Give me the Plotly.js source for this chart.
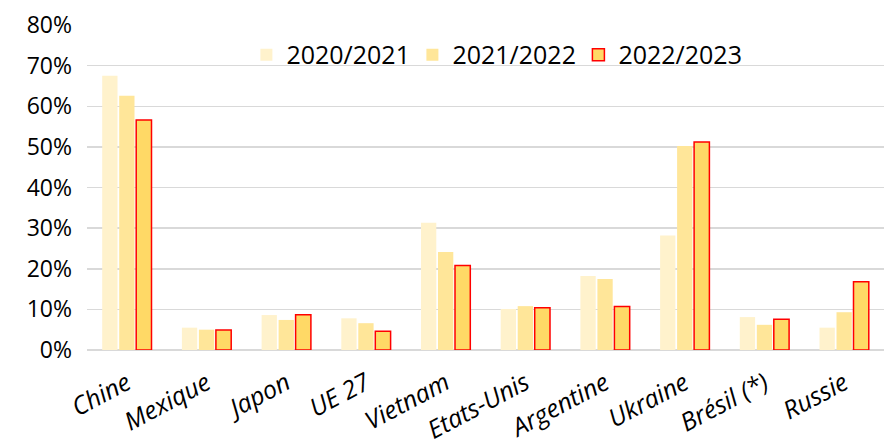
<!DOCTYPE html>
<html>
<head>
<meta charset="utf-8">
<script src="https://cdn.plot.ly/plotly-3.0.1.min.js"></script>
<style>html,body{margin:0;padding:0;background:#fff;}#chart{width:884px;height:446px;}</style>
</head>
<body>
<div id="chart"></div>
<script>
const categories = ["Chine", "Mexique", "Japon", "UE 27", "Vietnam", "Etats-Unis", "Argentine", "Ukraine", "Brésil (*)", "Russie"];
const seriesNames = ["2020/2021", "2021/2022", "2022/2023"];
const s2020 = [0.675, 0.055, 0.086, 0.078, 0.313, 0.101, 0.182, 0.282, 0.081, 0.055];
const s2021 = [0.626, 0.050, 0.074, 0.066, 0.241, 0.108, 0.175, 0.502, 0.062, 0.093];
const s2022 = [0.566, 0.049, 0.087, 0.046, 0.208, 0.104, 0.107, 0.512, 0.076, 0.168];
const yTickVals = [0, 0.1, 0.2, 0.3, 0.4, 0.5, 0.6, 0.7, 0.8];
const yTickText = ["0%", "10%", "20%", "30%", "40%", "50%", "60%", "70%", "80%"];

const fontFam = "Open Sans, sans-serif";
const traces = [
  {type: "bar", name: seriesNames[0], x: categories, y: s2020,
   marker: {color: "#FFF2CC", line: {width: 0}}},
  {type: "bar", name: seriesNames[1], x: categories, y: s2021,
   marker: {color: "#FFE699", line: {width: 0}}},
  {type: "bar", name: seriesNames[2], x: categories, y: s2022,
   marker: {color: "#FFD966", line: {color: "#FF0000", width: 1.5}}}
];
const layout = {
  width: 884, height: 446,
  margin: {l: 87, r: 0, t: 25, b: 96},
  paper_bgcolor: "#ffffff", plot_bgcolor: "#ffffff",
  barmode: "group", bargap: 0.36, bargroupgap: 0.1,
  showlegend: true,
  legend: {orientation: "h", x: 0.2, y: 0.908, xanchor: "left", yanchor: "middle",
    font: {family: fontFam, size: 25, color: "#000"}, bgcolor: "rgba(0,0,0,0)",
    entrywidth: 121, traceorder: "normal"},
  xaxis: {tickangle: -28, tickfont: {family: fontFam, size: 25, color: "#000", style: "italic"},
    showgrid: false, showline: false, ticks: "", ticklabelstandoff: 13, automargin: false, fixedrange: true},
  yaxis: {range: [0, 0.8], tickvals: yTickVals, ticktext: yTickText,
    tickfont: {family: fontFam, size: 23, color: "#000"},
    showgrid: true, gridcolor: "#d9d9d9", gridwidth: 1.5,
    zeroline: true, zerolinecolor: "#d9d9d9", zerolinewidth: 1.5,
    showline: false, ticks: "", ticklabelstandoff: 14, automargin: false, fixedrange: true}
};
Plotly.newPlot("chart", traces, layout, {staticPlot: true, displayModeBar: false});
</script>
</body>
</html>
